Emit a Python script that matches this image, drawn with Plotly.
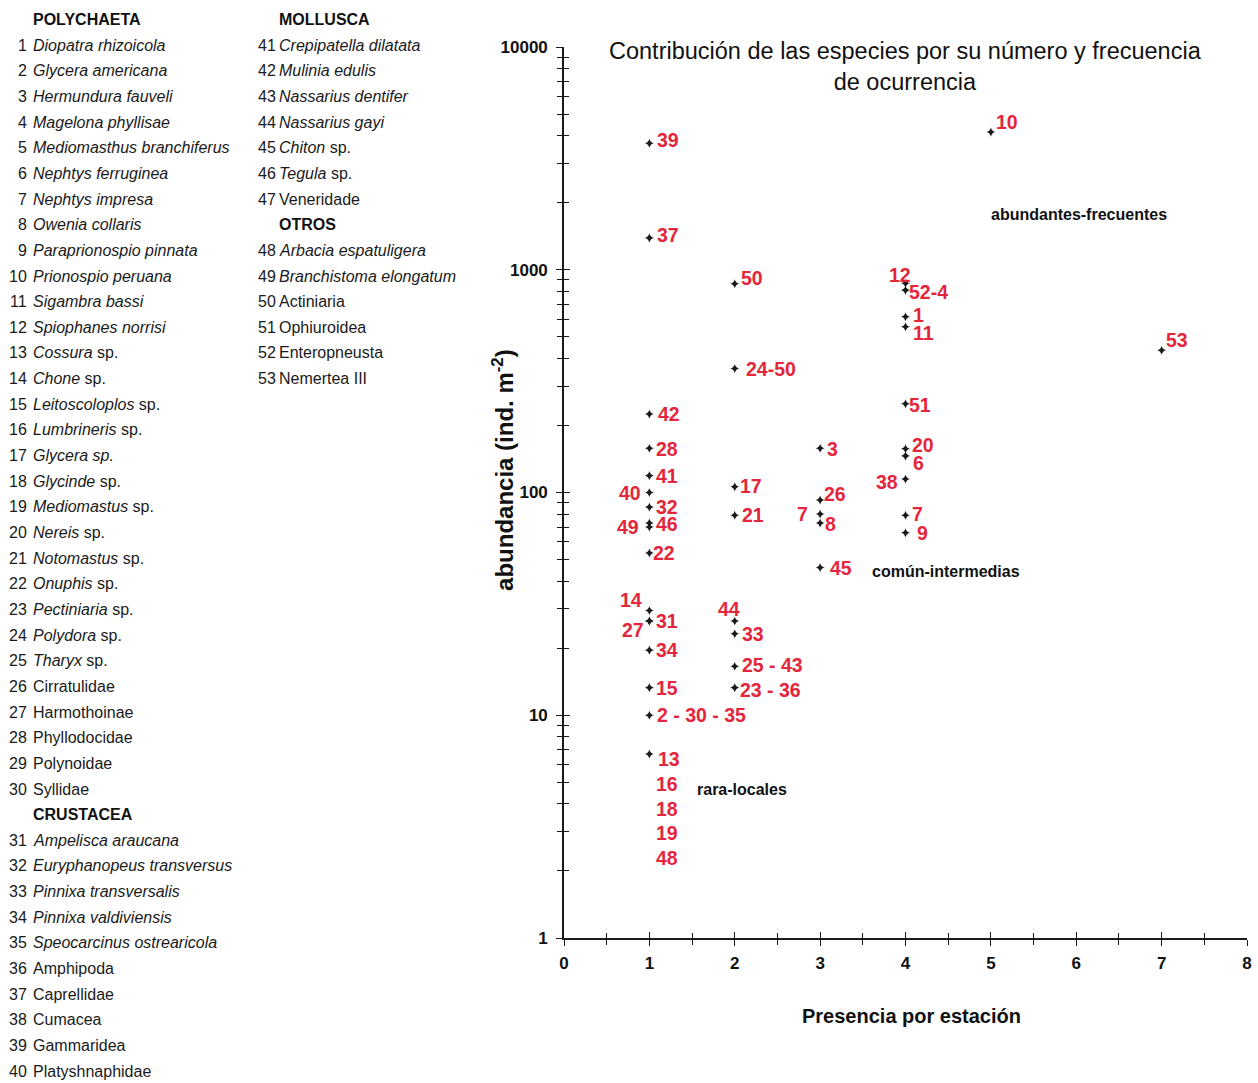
import numpy as np
import plotly.graph_objects as go

# ---- species reference list -------------------------------------------------
groups_col1 = [("POLYCHAETA", list(range(1, 31))), ("CRUSTACEA", list(range(31, 41)))]
groups_col2 = [("MOLLUSCA", list(range(41, 48))), ("OTROS", list(range(48, 54)))]

species = {
    1: "Diopatra rhizoicola", 2: "Glycera americana", 3: "Hermundura fauveli",
    4: "Magelona phyllisae", 5: "Mediomasthus branchiferus", 6: "Nephtys ferruginea",
    7: "Nephtys impresa", 8: "Owenia collaris", 9: "Paraprionospio pinnata",
    10: "Prionospio peruana", 11: "Sigambra bassi", 12: "Spiophanes norrisi",
    13: "Cossura sp.", 14: "Chone sp.", 15: "Leitoscoloplos sp.", 16: "Lumbrineris sp.",
    17: "Glycera sp.", 18: "Glycinde sp.", 19: "Mediomastus sp.", 20: "Nereis sp.",
    21: "Notomastus sp.", 22: "Onuphis sp.", 23: "Pectiniaria sp.", 24: "Polydora sp.",
    25: "Tharyx sp.", 26: "Cirratulidae", 27: "Harmothoinae", 28: "Phyllodocidae",
    29: "Polynoidae", 30: "Syllidae",
    31: "Ampelisca araucana", 32: "Euryphanopeus transversus", 33: "Pinnixa transversalis",
    34: "Pinnixa valdiviensis", 35: "Speocarcinus ostrearicola", 36: "Amphipoda",
    37: "Caprellidae", 38: "Cumacea", 39: "Gammaridea", 40: "Platyshnaphidae",
    41: "Crepipatella dilatata", 42: "Mulinia edulis", 43: "Nassarius dentifer",
    44: "Nassarius gayi", 45: "Chiton sp.", 46: "Tegula sp.", 47: "Veneridade",
    48: "Arbacia espatuligera", 49: "Branchistoma elongatum", 50: "Actiniaria",
    51: "Ophiuroidea", 52: "Enteropneusta", 53: "Nemertea III",
}
# taxa written as scientific names (genus / binomial)
italic_ids = set(range(1, 26)) | set(range(31, 36)) | set(range(41, 47)) | {48, 49}
fully_italic_ids = {17}

# ---- plotted data: presence (stations) vs abundance (ind. m-2) -----------------
point_labels = ["39", "37", "10", "50", "12", "52-4", "1", "11", "53", "24-50",
                "51", "42", "28", "3", "41", "40", "32", "46", "49", "22",
                "17", "21", "26", "7", "8", "45", "20", "6", "38", "7", "9",
                "14", "27", "31", "34", "15", "2 - 30 - 35", "13",
                "44", "33", "25 - 43", "23 - 36"]
presence = [1, 1, 5, 2, 4, 4, 4, 4, 7, 2,
            4, 1, 1, 3, 1, 1, 1, 1, 1, 1,
            2, 2, 3, 3, 3, 3, 4, 4, 4, 4, 4,
            1, 1, 1, 1, 1, 1, 1,
            2, 2, 2, 2]
abundance = [3700, 1390, 4150, 865, 870, 810, 615, 555, 435, 360,
             250, 225, 158, 158, 119, 100, 86, 73, 70, 53.5,
             106, 79, 92.5, 80, 73, 46, 157, 146, 115, 79, 66,
             29.5, 26.5, 26.5, 19.6, 13.3, 10, 6.7,
             26.5, 23.2, 16.6, 13.3]

# species listed below the lowest point at one station
low_labels = ["16", "18", "19", "48"]
low_label_y = [4.9, 3.8, 2.96, 2.29]

category_labels = ["abundantes-frecuentes", "común-intermedias", "rara-locales"]
category_x = [6.03, 4.47, 2.08]
category_y = [1762, 44.4, 4.62]

x_ticks = [0, 1, 2, 3, 4, 5, 6, 7, 8]
y_ticks = [1, 10, 100, 1000, 10000]

# ---- styling ---------------------------------------------------------------
FONT = "Liberation Sans, Arial, sans-serif"
RED = "#e3263b"
INK = "#1a1a1a"

W, H = 1258, 1083
ML, MT, MB = 564, 47, 145
PW, PH = 682, H - MT - MB
MR = W - ML - PW - 6


def px(x):
    return (x - ML) / PW


def py(y):
    return (H - MB - y) / PH


# label placement around each marker: (xshift, yshift, anchor)
label_pos = [(6, 3, "left"), (6, 3, "left"), (3, 10, "left"), (4, 6, "left"),
             (-6, 8, "center"), (1, -2, "left"), (5, 2, "left"), (5, -6, "left"),
             (2, 10, "left"), (9, 0, "left"), (1, -1, "left"), (7, 0, "left"),
             (5, -1, "left"), (5, -1, "left"), (5, 0, "left"), (-6, 0, "right"),
             (5, 0, "left"), (5, -1, "left"), (-8, 0, "right"), (2, 0, "left"),
             (3, 1, "left"), (5, 0, "left"), (2, 6, "left"), (-10, 0, "right"),
             (3, -1, "left"), (8, 0, "left"), (4, 4, "left"), (5, -7, "left"),
             (-6, -3, "right"), (4, 1, "left"), (9, 0, "left"),
             (-5, 11, "right"), (-3, -9, "right"), (5, 0, "left"), (5, 0, "left"),
             (5, 0, "left"), (6, 0, "left"), (7, -5, "left"),
             (-6, 12, "center"), (5, 0, "left"), (5, 1, "left"), (3, -2, "left")]

fig = go.Figure()

fig.add_trace(go.Scatter(
    x=presence, y=abundance, mode="markers",
    marker=dict(symbol="star-diamond", size=6.5, color=INK),
    hoverinfo="skip", showlegend=False,
))

# overlay axes give the ticks that cross the axis lines
fig.add_trace(go.Scatter(x=[], y=[], xaxis="x2", yaxis="y2",
                         showlegend=False, hoverinfo="skip"))

annotations = []
LABEL_FONT = dict(family=FONT, size=19.5, color=RED)
for lab, xv, yv, (dx, dy, anc) in zip(point_labels, presence, abundance, label_pos):
    annotations.append(dict(
        x=xv, y=np.log10(yv), xref="x", yref="y", text=f"<b>{lab}</b>",
        showarrow=False, xanchor=anc, yanchor="middle", xshift=dx, yshift=dy,
        font=LABEL_FONT,
    ))
for lab, yv in zip(low_labels, low_label_y):
    annotations.append(dict(
        x=1, y=np.log10(yv), xref="x", yref="y", text=f"<b>{lab}</b>",
        showarrow=False, xanchor="left", yanchor="middle", xshift=5,
        font=LABEL_FONT,
    ))
for lab, xv, yv in zip(category_labels, category_x, category_y):
    annotations.append(dict(
        x=xv, y=np.log10(yv), xref="x", yref="y", text=f"<b>{lab}</b>",
        showarrow=False, xanchor="center", yanchor="middle",
        font=dict(family=FONT, size=16, color="#111"), bgcolor="rgba(255,255,255,0.85)",
    ))

# chart title and axis titles
annotations.append(dict(
    x=px(905), y=py(36), xref="paper", yref="paper",
    text="Contribución de las especies por su número y frecuencia<br>de ocurrencia",
    showarrow=False, xanchor="center", yanchor="top",
    font=dict(family=FONT, size=23.5, color="#111"),
))
annotations.append(dict(
    x=px(503), y=py(470), xref="paper", yref="paper",
    text="<b>abundancia (ind. m<sup>-2</sup>)</b>", textangle=-90,
    showarrow=False, xanchor="center", yanchor="middle",
    font=dict(family=FONT, size=24, color="#111"),
))
annotations.append(dict(
    x=px(911), y=py(1016), xref="paper", yref="paper",
    text="<b>Presencia por estación</b>",
    showarrow=False, xanchor="center", yanchor="middle",
    font=dict(family=FONT, size=20, color="#111"),
))


def fmt_name(i):
    name = species[i]
    if i in fully_italic_ids:
        return f"<i>{name}</i>"
    if i in italic_ids:
        if name.endswith(" sp."):
            return f"<i>{name[:-4]}</i> sp."
        return f"<i>{name}</i>"
    return name


ROW0, ROWH = 19.5, 25.65
LIST_FONT = dict(family=FONT, size=16, color="#1a1a1a")


def add_column(groups, num_right, name_left):
    k = 0
    for header, ids in groups:
        annotations.append(dict(
            x=px(name_left), y=py(ROW0 + k * ROWH), xref="paper", yref="paper",
            text=f"<b>{header}</b>", showarrow=False, xanchor="left", yanchor="middle",
            font=dict(family=FONT, size=16, color="#111"),
        ))
        k += 1
        for i in ids:
            yy = py(ROW0 + k * ROWH)
            annotations.append(dict(
                x=px(num_right), y=yy, xref="paper", yref="paper", text=str(i),
                showarrow=False, xanchor="right", yanchor="middle", font=LIST_FONT,
            ))
            annotations.append(dict(
                x=px(name_left), y=yy, xref="paper", yref="paper", text=fmt_name(i),
                showarrow=False, xanchor="left", yanchor="middle", font=LIST_FONT,
            ))
            k += 1


add_column(groups_col1, 30, 31.5)
add_column(groups_col2, 278, 277)

minor_y = [m * 10 ** e for e in range(0, 4) for m in range(2, 10)]
minor_x = [v + 0.5 for v in range(0, 8)]

axis_common = dict(showgrid=False, zeroline=False, tickcolor=INK, tickwidth=1.3)

fig.update_layout(
    width=W, height=H,
    margin=dict(l=ML, r=MR, t=MT, b=MB, pad=0),
    paper_bgcolor="white", plot_bgcolor="white",
    showlegend=False,
    xaxis=dict(
        range=[0, 8], tickvals=x_ticks, ticktext=[f"<b>{v}</b>" for v in x_ticks],
        ticks="outside", ticklen=6, showline=True, linecolor=INK, linewidth=1.6,
        tickfont=dict(family=FONT, size=17, color="#111"), ticklabelstandoff=3,
        minor=dict(tickvals=minor_x, ticks="outside", ticklen=5, tickcolor=INK, tickwidth=1.2),
        anchor="y", **axis_common,
    ),
    yaxis=dict(
        type="log", range=[0, 4], tickvals=y_ticks, ticktext=[f"<b>{v}</b>" for v in y_ticks],
        ticks="outside", ticklen=6, showline=True, linecolor=INK, linewidth=1.6,
        tickfont=dict(family=FONT, size=17, color="#111"), ticklabelstandoff=5,
        minor=dict(tickvals=minor_y, ticks="outside", ticklen=5, tickcolor=INK, tickwidth=1.2),
        anchor="x", **axis_common,
    ),
    xaxis2=dict(
        range=[0, 8], overlaying="x", anchor="y2", side="bottom", tickvals=x_ticks,
        ticks="inside", ticklen=6, showticklabels=False, showline=False,
        minor=dict(tickvals=minor_x, ticks="inside", ticklen=5, tickcolor=INK, tickwidth=1.2),
        **axis_common,
    ),
    yaxis2=dict(
        type="log", range=[0, 4], overlaying="y", anchor="x2", side="left", tickvals=y_ticks,
        ticks="inside", ticklen=6, showticklabels=False, showline=False,
        minor=dict(tickvals=minor_y, ticks="inside", ticklen=5, tickcolor=INK, tickwidth=1.2),
        **axis_common,
    ),
    annotations=annotations,
)

fig.write_html("out.html")
